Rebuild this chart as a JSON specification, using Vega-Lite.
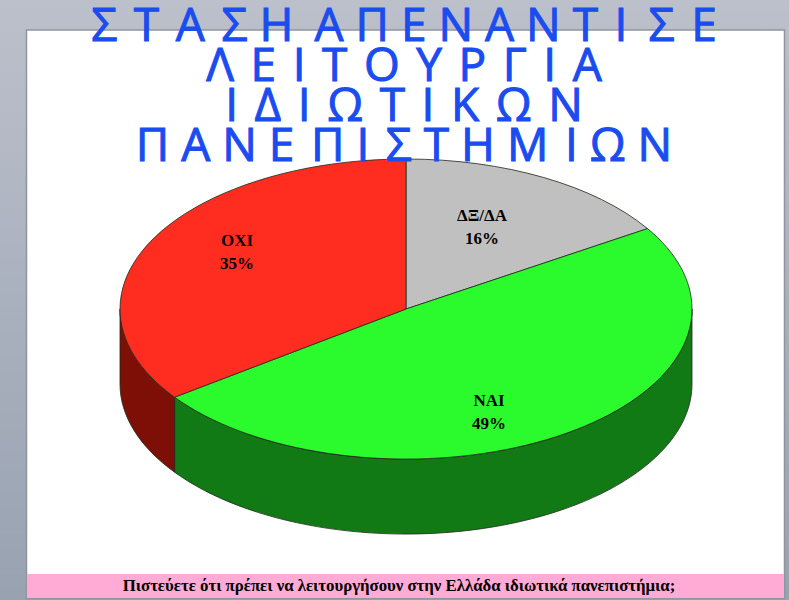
{
  "$schema": "https://vega.github.io/schema/vega-lite/v6.json",
  "width": 789,
  "height": 600,
  "padding": 0,
  "autosize": "none",
  "background": "#aab0bc",
  "config": {"view": {"stroke": null}},
  "datasets": {
    "answers": [
      {"answer": "ΔΞ/ΔΑ", "percent": 16},
      {"answer": "ΝΑΙ", "percent": 49},
      {"answer": "ΟΧΙ", "percent": 35}
    ],
    "heading": [
      {"line": 1, "text": "Σ\u200a Τ\u200a Α\u200a Σ Η\u200a\u200a Α Π Ε Ν Α Ν Τ\u200a Ι\u200a\u200a Σ\u200a Ε"},
      {"line": 2, "text": "Λ\u200a Ε\u200a Ι\u200a Τ\u200a Ο\u200a Υ\u200a Ρ\u200a Γ\u200a Ι\u200a Α"},
      {"line": 3, "text": "Ι\u200a Δ\u200a Ι\u200a Ω\u200a Τ\u200a Ι\u200a Κ\u200a Ω\u200a Ν"},
      {"line": 4, "text": "Π Α Ν Ε\u200a Π Ι\u200a Σ Τ Η Μ\u200a Ι Ω Ν"}
    ],
    "question": [
      {"text": "Πιστεύετε ότι πρέπει να λειτουργήσουν στην Ελλάδα ιδιωτικά πανεπιστήμια;"}
    ]
  },
  "layer": [
    {
      "data": {"name": "question"},
      "mark": {
        "type": "point",
        "filled": true,
        "opacity": 1,
        "size": 4,
        "shape": "M-394.5 -300H394.5V300H-394.5Z",
        "fill": {
          "x1": 0, "y1": 0, "x2": 0, "y2": 1,
          "gradient": "linear",
          "stops": [
            {"offset": 0, "color": "#bcc0cb"},
            {"offset": 1, "color": "#98a2b1"}
          ]
        }
      }
    },
    {
      "data": {"name": "question"},
      "mark": {
        "type": "point",
        "filled": true,
        "opacity": 1,
        "size": 4,
        "shape": "M-368 -270H390V298.5H-368Z",
        "fill": "#ffffff",
        "stroke": "#8f949d",
        "strokeWidth": 1.5
      }
    },
    {
      "data": {"name": "question"},
      "mark": {
        "type": "point",
        "filled": true,
        "opacity": 1,
        "size": 4,
        "shape": "M-367.5 274H389.5V298H-367.5Z",
        "fill": "#ffabd6"
      }
    },
    {
      "data": {"name": "answers"},
      "transform": [{"filter": "datum.answer !== 'ΔΞ/ΔΑ'"}],
      "mark": {
        "type": "point",
        "filled": true,
        "opacity": 1,
        "size": 4,
        "stroke": "#1f2a1c",
        "strokeWidth": 0.8
      },
      "encoding": {
        "shape": {
          "field": "answer",
          "type": "nominal",
          "legend": null,
          "scale": {
            "domain": ["ΝΑΙ", "ΟΧΙ"],
            "range": [
              "M297.5 9A286 150 0 0 1 -219.9 97.2L-219.9 172.2A286 150 0 0 0 297.5 84Z",
              "M-219.9 97.2A286 150 0 0 1 -274.5 9L-274.5 84A286 150 0 0 0 -219.9 172.2Z"
            ]
          }
        },
        "fill": {
          "field": "answer",
          "type": "nominal",
          "legend": null,
          "scale": {
            "domain": ["ΝΑΙ", "ΟΧΙ"],
            "range": ["#127a15", "#7d0f06"]
          }
        }
      }
    },
    {
      "data": {"name": "answers"},
      "mark": {
        "type": "point",
        "filled": true,
        "opacity": 1,
        "size": 4,
        "stroke": "#1f2a1c",
        "strokeWidth": 0.8
      },
      "encoding": {
        "shape": {
          "field": "answer",
          "type": "nominal",
          "legend": null,
          "scale": {
            "domain": ["ΔΞ/ΔΑ", "ΝΑΙ", "ΟΧΙ"],
            "range": [
              "M11.5 9L11.5 -141A286 150 0 0 1 253 -71.4Z",
              "M11.5 9L253 -71.4A286 150 0 0 1 297.5 9A286 150 0 0 1 -219.9 97.2Z",
              "M11.5 9L-219.9 97.2A286 150 0 0 1 -274.5 9A286 150 0 0 1 11.5 -141Z"
            ]
          }
        },
        "fill": {
          "field": "answer",
          "type": "nominal",
          "legend": null,
          "scale": {
            "domain": ["ΔΞ/ΔΑ", "ΝΑΙ", "ΟΧΙ"],
            "range": ["#c0c0c0", "#2bfb2d", "#ff2d20"]
          }
        }
      }
    },
    {
      "data": {"name": "answers"},
      "transform": [
        {"calculate": "datum.answer + '\\n' + datum.percent + '%'", "as": "label"}
      ],
      "mark": {
        "type": "text",
        "font": "Liberation Serif",
        "fontWeight": "bold",
        "fontSize": 17,
        "lineBreak": "\n",
        "lineHeight": 23,
        "baseline": "middle",
        "color": "#000000"
      },
      "encoding": {
        "x": {
          "field": "percent",
          "type": "quantitative",
          "axis": null,
          "scale": {"domain": [16, 35, 49], "range": [482, 237, 489], "zero": false, "nice": false}
        },
        "y": {
          "field": "percent",
          "type": "quantitative",
          "axis": null,
          "scale": {"domain": [16, 35, 49], "range": [216, 241, 401], "zero": false, "nice": false}
        },
        "text": {"field": "label", "type": "nominal"}
      }
    },
    {
      "data": {"name": "heading"},
      "mark": {
        "type": "text",
        "font": "Open Sans",
        "fontSize": 46,
        "dx": 9.5,
        "baseline": "alphabetic",
        "color": "#1a4cf0",
        "stroke": "#1a4cf0",
        "strokeWidth": 1
      },
      "encoding": {
        "y": {
          "field": "line",
          "type": "ordinal",
          "axis": null,
          "scale": {"type": "point", "padding": 0, "range": [41, 161]}
        },
        "text": {"field": "text", "type": "nominal"}
      }
    },
    {
      "data": {"name": "question"},
      "mark": {
        "type": "text",
        "font": "Liberation Serif",
        "fontWeight": "bold",
        "fontSize": 16.8,
        "dx": 4.5,
        "dy": 291,
        "baseline": "alphabetic",
        "color": "#000000"
      },
      "encoding": {
        "text": {"field": "text", "type": "nominal"}
      }
    }
  ],
  "resolve": {"scale": {"shape": "independent", "fill": "independent", "y": "independent", "x": "independent"}}
}
